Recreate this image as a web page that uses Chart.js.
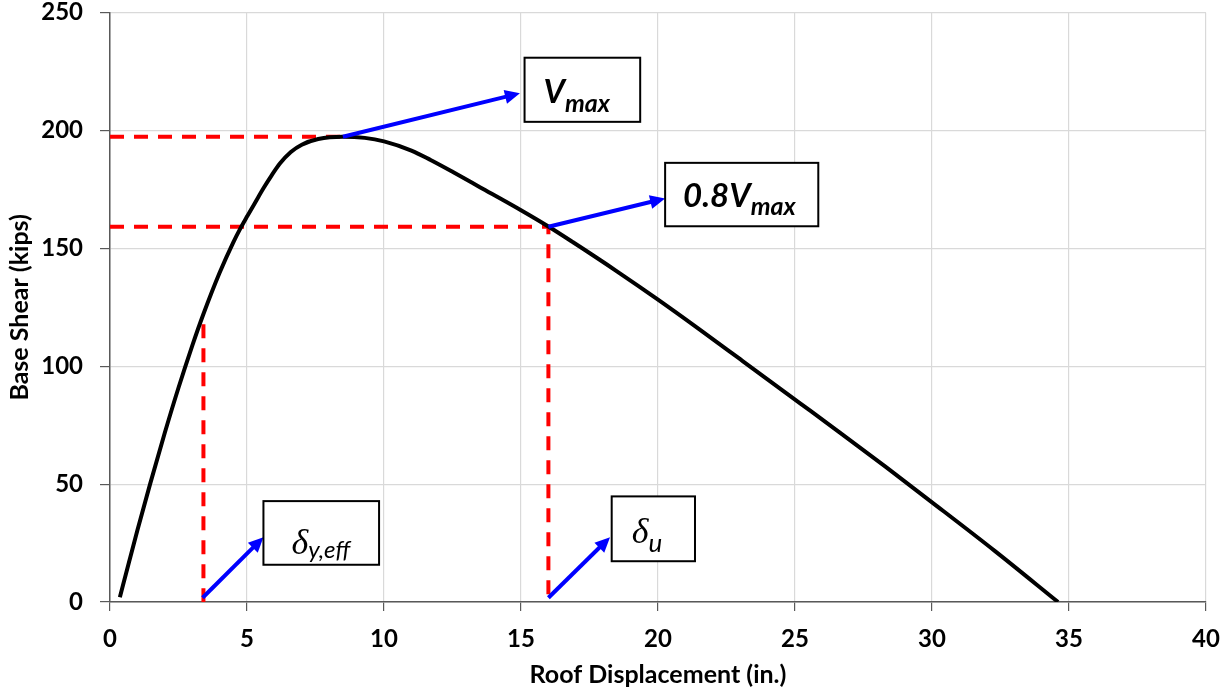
<!DOCTYPE html>
<html>
<head>
<meta charset="utf-8">
<script src="https://cdn.jsdelivr.net/npm/chart.js@4.4.1/dist/chart.umd.min.js"></script>
<style>
  html, body { margin: 0; padding: 0; background: #fff; }
</style>
</head>
<body>
<canvas id="pushover" width="1232" height="694"></canvas>
<script>
// pushover curve: roof displacement (in.) vs base shear (kips)
const roofDisp = [0.36, 0.7, 1.0, 1.46, 2.0, 2.5, 3.0, 3.41, 4.0, 4.5, 4.74, 5.0, 5.3, 5.6, 5.9, 6.2, 6.6, 7.0, 7.6, 8.5,
  9.3, 10.0, 11.0, 11.7, 12.5, 13.5, 15.0, 16.0, 16.9, 18.5, 20.0, 21.5, 23.0, 25.2, 26.6, 28.3, 30.0, 32.3, 34.6];
const baseShear = [2, 17.2, 30.4, 49.9, 71.8, 90.9, 108.7, 122.2, 139.7, 152.6, 158.1, 163.5, 169.5, 175.5, 181, 186, 190.9, 194.0, 196.4, 197.4,
  196.9, 195.4, 191.5, 187.5, 182.5, 176.0, 166.2, 159.3, 152.6, 140.3, 128.3, 115.8, 103.0, 84.2, 72.2, 57.4, 42.3, 21.6, 0];

// reference levels marked with dashed lines
const vMax = 197.4;
const vMaxDisp = 8.5;
const v08 = 159.2;
const deltaU = 16.0;
const deltaYeff = 3.41;
const deltaYeffTop = 117.8;

// pointer arrows [x, y] -> [x, y]
const arrowFrom = [[8.5, 197.4], [16.0, 159.2], [3.38, 1.8], [16.0, 1.8]];
const arrowTo = [[14.96, 215.8], [20.26, 171.2], [5.6, 27.5], [18.25, 27.5]];

// axis ticks
const xTicks = [0, 5, 10, 15, 20, 25, 30, 35, 40];
const yTicks = [0, 50, 100, 150, 200, 250];

// labelled boxes, corners in data units; text offsets in px from the box corner
const labelBoxes = [
  { x0: 15.13, x1: 19.35, y0: 230.9, y1: 203.7, left: 19, parts: [
    { t: 'V', font: 'italic bold 33px Lato', base: 45 },
    { t: 'max', font: 'italic bold 25px Lato', base: 54 }] },
  { x0: 20.26, x1: 25.85, y0: 186.3, y1: 159.4, left: 18, parts: [
    { t: '0.8V', font: 'italic bold 33px Lato', base: 44 },
    { t: 'max', font: 'italic bold 25px Lato', base: 52 }] },
  { x0: 5.6, x1: 9.82, y0: 42.8, y1: 15.8, left: 28, parts: [
    { t: 'δ', font: 'italic 36px "Liberation Serif"', base: 53 },
    { t: 'y,eff', font: 'italic 24px Lato', base: 57 }] },
  { x0: 18.31, x1: 21.35, y0: 44.8, y1: 17.3, left: 20, parts: [
    { t: 'δ', font: 'italic 36px "Liberation Serif"', base: 47 },
    { t: 'u', font: 'italic 26px Lato', base: 56 }] }
];

const toPoints = (xs, ys) => xs.map((x, i) => ({ x, y: ys[i] }));

const annotations = {
  id: 'annotations',
  afterDatasetsDraw(chart) {
    const { ctx, scales: { x, y } } = chart;
    ctx.save();

    // blue arrows
    ctx.strokeStyle = '#0000ff';
    ctx.fillStyle = '#0000ff';
    ctx.lineWidth = 4;
    ctx.lineCap = 'butt';
    arrowFrom.forEach((from, i) => {
      const x1 = x.getPixelForValue(from[0]), y1 = y.getPixelForValue(from[1]);
      const x2 = x.getPixelForValue(arrowTo[i][0]), y2 = y.getPixelForValue(arrowTo[i][1]);
      const ang = Math.atan2(y2 - y1, x2 - x1);
      const head = 15, half = 7;
      const bx = x2 - head * Math.cos(ang), by = y2 - head * Math.sin(ang);
      ctx.beginPath();
      ctx.moveTo(x1, y1);
      ctx.lineTo(bx + 2 * Math.cos(ang), by + 2 * Math.sin(ang));
      ctx.stroke();
      ctx.beginPath();
      ctx.moveTo(x2, y2);
      ctx.lineTo(bx + half * Math.sin(ang), by - half * Math.cos(ang));
      ctx.lineTo(bx - half * Math.sin(ang), by + half * Math.cos(ang));
      ctx.closePath();
      ctx.fill();
    });

    // boxes with symbols
    labelBoxes.forEach(b => {
      const left = x.getPixelForValue(b.x0), right = x.getPixelForValue(b.x1);
      const top = y.getPixelForValue(b.y0), bottom = y.getPixelForValue(b.y1);
      ctx.fillStyle = '#fff';
      ctx.fillRect(left, top, right - left, bottom - top);
      ctx.strokeStyle = '#000';
      ctx.lineWidth = 2;
      ctx.strokeRect(left, top, right - left, bottom - top);
      ctx.fillStyle = '#000';
      ctx.textBaseline = 'alphabetic';
      ctx.textAlign = 'left';
      let cx = left + b.left;
      b.parts.forEach(p => {
        ctx.font = p.font;
        ctx.fillText(p.t, cx, top + p.base);
        cx += ctx.measureText(p.t).width;
      });
    });
    ctx.restore();
  }
};

const dashed = {
  borderColor: '#ff0000',
  borderWidth: 4,
  borderDash: [14, 10],
  pointRadius: 0,
  showLine: true,
  fill: false,
  order: 2
};

new Chart(document.getElementById('pushover'), {
  type: 'scatter',
  data: {
    datasets: [
      {
        data: toPoints(roofDisp, baseShear),
        borderColor: '#000',
        borderWidth: 4,
        pointRadius: 0,
        showLine: true,
        cubicInterpolationMode: 'monotone',
        order: 1
      },
      { ...dashed, data: [{ x: 0, y: vMax }, { x: vMaxDisp, y: vMax }] },
      { ...dashed, data: [{ x: 0, y: v08 }, { x: deltaU, y: v08 }, { x: deltaU, y: 0 }] },
      { ...dashed, data: [{ x: deltaYeff, y: deltaYeffTop }, { x: deltaYeff, y: 0 }] }
    ]
  },
  options: {
    responsive: false,
    animation: false,
    devicePixelRatio: 1,
    layout: { padding: { top: 12.7, right: 26, left: 0, bottom: 0 } },
    plugins: { legend: { display: false }, tooltip: { enabled: false } },
    scales: {
      x: {
        type: 'linear',
        min: 0,
        max: 40,
        afterFit(scale) {
          scale.height = 92;
          scale.paddingLeft = 0;
          scale.paddingRight = 0;
        },
        afterBuildTicks(scale) { scale.ticks = xTicks.map(v => ({ value: v })); },
        grid: { color: '#d9d9d9', lineWidth: 1.2, tickColor: '#595959', tickLength: 9 },
        border: { color: '#595959', width: 1.5 },
        ticks: { color: '#000', padding: 14, font: { family: 'Lato', weight: 'bold', size: 24 } },
        title: {
          display: true,
          text: 'Roof Displacement (in.)',
          color: '#000',
          padding: { top: 0, bottom: 4 },
          font: { family: 'Lato', weight: 'bold', size: 25 }
        }
      },
      y: {
        type: 'linear',
        min: 0,
        max: 250,
        afterFit(scale) {
          scale.width = 110;
          scale.paddingTop = 0;
          scale.paddingBottom = 0;
        },
        afterBuildTicks(scale) { scale.ticks = yTicks.map(v => ({ value: v })); },
        grid: { color: '#d9d9d9', lineWidth: 1.2, tickColor: '#595959', tickLength: 10 },
        border: { color: '#595959', width: 1.5 },
        ticks: { color: '#000', padding: 17, font: { family: 'Lato', weight: 'bold', size: 24 } },
        title: {
          display: true,
          text: 'Base Shear (kips)',
          color: '#000',
          padding: { top: 5, bottom: 0 },
          font: { family: 'Lato', weight: 'bold', size: 25 }
        }
      }
    }
  },
  plugins: [annotations]
});
</script>
</body>
</html>
